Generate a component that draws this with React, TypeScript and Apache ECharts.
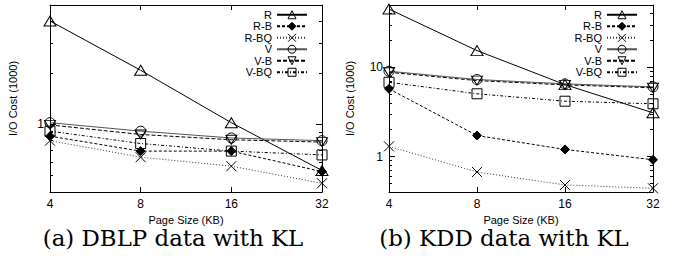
import React, { useEffect, useRef } from 'react';
import * as echarts from 'echarts';

const pageSizes = ['4', '8', '16', '32'];
const seriesNames = ['R', 'R-B', 'R-BQ', 'V', 'V-B', 'V-BQ'];

const dblpR = [4.03, 2.07, 1.02, 0.535];
const dblpRB = [0.85, 0.695, 0.695, 0.527];
const dblpRBQ = [0.8, 0.64, 0.567, 0.45];
const dblpV = [1.02, 0.91, 0.83, 0.8];
const dblpVB = [0.99, 0.87, 0.81, 0.785];
const dblpVBQ = [0.91, 0.77, 0.695, 0.66];

const kddR = [45, 15.4, 6.4, 3.09];
const kddRB = [5.74, 1.72, 1.2, 0.92];
const kddRBQ = [1.3, 0.67, 0.48, 0.44];
const kddV = [9.04, 7.3, 6.53, 6.04];
const kddVB = [8.8, 7.1, 6.35, 5.9];
const kddVBQ = [6.8, 5.05, 4.17, 3.9];

const dblpYRange = [0.4, 5];
const kddYRange = [0.4, 50];
const dblpMajorTicks = [1];
const dblpMinorTicks = [0.4, 0.5, 0.6, 0.7, 0.8, 0.9, 2, 3, 4, 5];
const kddMajorTicks = [1, 10];
const kddMinorTicks = [0.4, 0.5, 0.6, 0.7, 0.8, 0.9, 2, 3, 4, 5, 6, 7, 8, 9, 20, 30, 40, 50];

const captions = ['(a) DBLP data with KL', '(b) KDD data with KL'];
const xTitle = 'Page Size (KB)';
const yTitle = 'I/O Cost (1000)';

const SANS = '"Liberation Sans", Arial, sans-serif';

const styles: Record<string, any> = {
  R: { symbol: 'triangle', size: [12, 10], fill: 'transparent', dash: 'solid', color: '#000' },
  'R-B': { symbol: 'diamond', size: [9, 9], fill: '#000', dash: [3, 2], color: '#000' },
  'R-BQ': { symbol: 'path://M0,0L10,10M10,0L0,10', size: [10, 10], fill: 'transparent', dash: [1, 2], color: '#333' },
  V: { symbol: 'circle', size: [10, 10], fill: 'transparent', dash: 'solid', color: '#555' },
  'V-B': { symbol: 'path://M0,0L10,0L5,9Z', size: [11, 9], fill: 'transparent', dash: [4, 2], color: '#000' },
  'V-BQ': { symbol: 'rect', size: [10, 10], fill: 'transparent', dash: [3, 2, 1, 2], color: '#000' },
};

function makeSeries(name: string, data: number[], xi: number, yi: number) {
  const s = styles[name];
  return {
    type: 'line',
    name,
    data,
    xAxisIndex: xi,
    yAxisIndex: yi,
    symbol: s.symbol,
    symbolSize: s.size,
    showAllSymbol: true,
    lineStyle: { color: s.color, width: 1, type: s.dash },
    itemStyle: { color: s.fill, borderColor: '#000', borderWidth: 1 },
    emphasis: { disabled: true },
  };
}

function xAxes(grid: number) {
  const common = {
    gridIndex: grid,
    type: 'category',
    data: pageSizes,
    boundaryGap: false,
    axisLine: { show: true, lineStyle: { color: '#000', width: 1 } },
    axisTick: { show: true, inside: true, length: 5, lineStyle: { color: '#000' } },
    splitLine: { show: false },
  };
  return [
    {
      ...common,
      position: 'bottom',
      axisLabel: { show: true, color: '#000', fontFamily: SANS, fontSize: 12, margin: 6 },
      name: xTitle,
      nameLocation: 'middle',
      nameGap: 22,
      nameTextStyle: { color: '#000', fontFamily: SANS, fontSize: 11 },
    },
    { ...common, position: 'top', axisLabel: { show: false } },
  ];
}

function yAxes(grid: number, range: number[], major: number[], minor: number[], nameGap: number) {
  const base = {
    gridIndex: grid,
    type: 'log',
    logBase: 10,
    min: range[0],
    max: range[1],
    splitLine: { show: false },
  };
  const mk = (pos: string, isMajor: boolean, labels: boolean) => ({
    ...base,
    position: pos,
    axisLine: { show: isMajor, lineStyle: { color: '#000', width: 1 } },
    axisTick: {
      show: true,
      inside: true,
      length: isMajor ? 6 : 3,
      customValues: isMajor ? major : minor,
      lineStyle: { color: '#000' },
    },
    axisLabel: labels
      ? { show: true, customValues: major, color: '#000', fontFamily: SANS, fontSize: 12, margin: 6 }
      : { show: false },
    ...(labels
      ? {
          name: yTitle,
          nameLocation: 'middle',
          nameRotate: 90,
          nameGap,
          nameTextStyle: { color: '#000', fontFamily: SANS, fontSize: 11 },
        }
      : {}),
  });
  return [mk('left', true, true), mk('left', false, false), mk('right', true, false), mk('right', false, false)];
}

function legend(right: number) {
  return {
    data: seriesNames,
    orient: 'vertical',
    align: 'right',
    right,
    top: 9,
    padding: 0,
    itemWidth: 30,
    itemHeight: 10,
    itemGap: 0,
    itemStyle: { borderWidth: 1 },
    textStyle: { color: '#000', fontFamily: SANS, fontSize: 11, lineHeight: 11.5 },
    selectedMode: false,
  };
}

export default function App() {
  const ref = useRef<HTMLDivElement>(null);
  useEffect(() => {
    document.body.style.margin = '0';
    if (!ref.current) return;
    const chart = echarts.init(ref.current, undefined, { renderer: 'svg' });
    const dblp = [dblpR, dblpRB, dblpRBQ, dblpV, dblpVB, dblpVBQ];
    const kdd = [kddR, kddRB, kddRBQ, kddV, kddVB, kddVBQ];
    const captionStyle = { font: '22px "DejaVu Serif", serif', fill: '#000', align: 'center', verticalAlign: 'middle' };
    chart.setOption({
      animation: false,
      backgroundColor: '#fff',
      grid: [
        { left: 50, right: 351, top: 5, bottom: 64 },
        { left: 389, right: 20, top: 5, bottom: 64 },
      ],
      xAxis: [...xAxes(0), ...xAxes(1)],
      yAxis: [
        ...yAxes(0, dblpYRange, dblpMajorTicks, dblpMinorTicks, 32),
        ...yAxes(1, kddYRange, kddMajorTicks, kddMinorTicks, 34),
      ],
      legend: [legend(365), legend(35)],
      series: [
        ...seriesNames.map((n, i) => makeSeries(n, dblp[i], 0, 0)),
        ...seriesNames.map((n, i) => makeSeries(n, kdd[i], 2, 4)),
      ],
      graphic: [
        { type: 'text', x: 173, y: 238, scaleX: 1.04, style: { text: captions[0], ...captionStyle } },
        { type: 'text', x: 504, y: 238, scaleX: 1.04, style: { text: captions[1], ...captionStyle } },
      ],
    });
    return () => chart.dispose();
  }, []);
  return <div ref={ref} style={{ width: 673, height: 256 }} />;
}
